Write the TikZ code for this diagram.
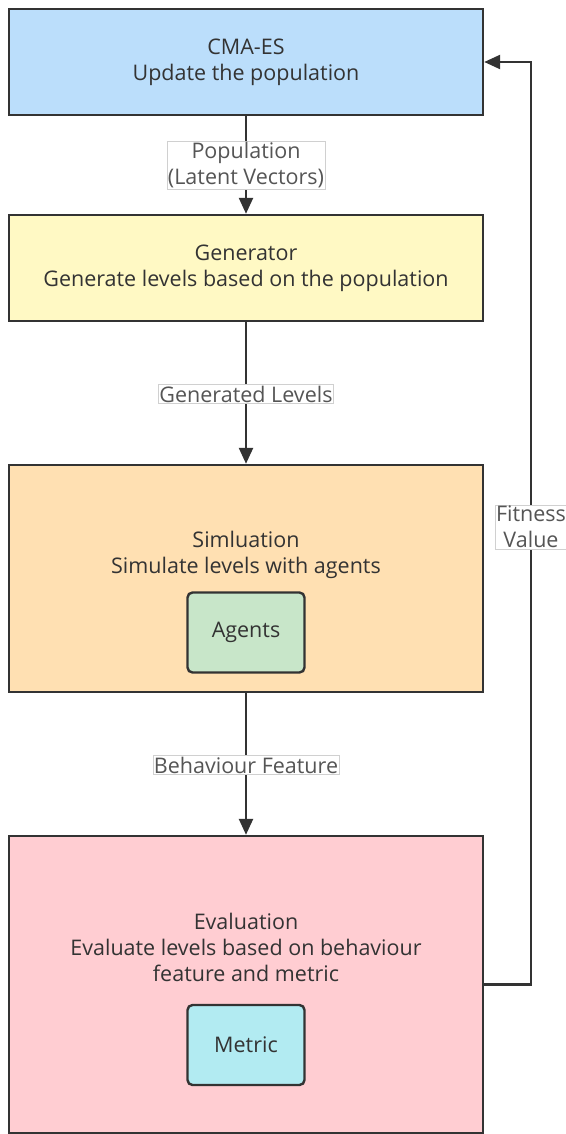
\documentclass[tikz,border=0pt]{standalone}
\usepackage{fontspec}
\setmainfont{Open Sans}
\usetikzlibrary{arrows.meta,positioning}
\definecolor{edge}{HTML}{333333}
\definecolor{txt}{HTML}{333333}
\definecolor{lbltxt}{HTML}{555555}
\definecolor{lblline}{HTML}{D0D0D0}
\definecolor{cmafill}{HTML}{BBDEFB}
\definecolor{genfill}{HTML}{FFF9C4}
\definecolor{simfill}{HTML}{FFE0B2}
\definecolor{agfill}{HTML}{C8E6C9}
\definecolor{evfill}{HTML}{FFCDD2}
\definecolor{mefill}{HTML}{B2EBF2}
\tikzset{
  bigbox/.style={draw=edge, line width=2.4pt, minimum width=474pt, align=center,
    text=txt, font=\fontsize{21.5}{26}\selectfont, inner sep=0pt},
  smallbox/.style={draw=edge, line width=2.4pt, rounded corners=5pt, minimum width=117pt,
    minimum height=80pt, text=txt, font=\fontsize{21.5}{26}\selectfont},
  boxtext/.style={align=center, text=txt, font=\fontsize{21.5}{26}\selectfont, inner sep=0pt},
  flow/.style={draw=edge, line width=2.4pt, -{Triangle[length=16pt,width=14pt]}},
  lbl/.style={fill=white, draw=lblline, line width=0.6pt, align=center, text=lbltxt,
    font=\fontsize{21.5}{26}\selectfont, inner xsep=1pt, inner ysep=1pt}
}
\begin{document}
\begin{tikzpicture}[x=1pt,y=-1pt]
\useasboundingbox (0,0) rectangle (565,1134);
\node[bigbox, fill=cmafill, minimum height=106pt] (cma) at (246,62) {CMA-ES\\Update the population};
\node[bigbox, fill=genfill, minimum height=106pt] (gen) at (246,268) {Generator\\Generate levels based on the population};
\node[bigbox, fill=simfill, minimum height=227pt] (sim) at (246,578.5) {};
\node[boxtext] (simtext) at (246,555) {Simluation\\Simulate levels with agents};
\node[smallbox, fill=agfill] (agents) at (246,632.5) {Agents};
\node[bigbox, fill=evfill, minimum height=297pt] (eval) at (246,984.5) {};
\node[boxtext] (evaltext) at (246,947) {Evaluation\\Evaluate levels based on behaviour\\feature and metric};
\node[smallbox, fill=mefill] (metric) at (246,1045) {Metric};
\coordinate (c2) at (531,62);
\draw[flow] (cma) -- (gen);
\draw[flow] (gen) -- (sim);
\draw[flow] (sim) -- (eval);
\draw[flow] (eval.east) -| (c2) -- (cma.east);
\node[lbl] (l1) at (246,165) {Population\\(Latent Vectors)};
\node[lbl] (l2) at (246,394) {Generated Levels};
\node[lbl] (l3) at (246,765) {Behaviour Feature};
\node[lbl] (l4) at (531,527) {Fitness\\Value};
\end{tikzpicture}
\end{document}
